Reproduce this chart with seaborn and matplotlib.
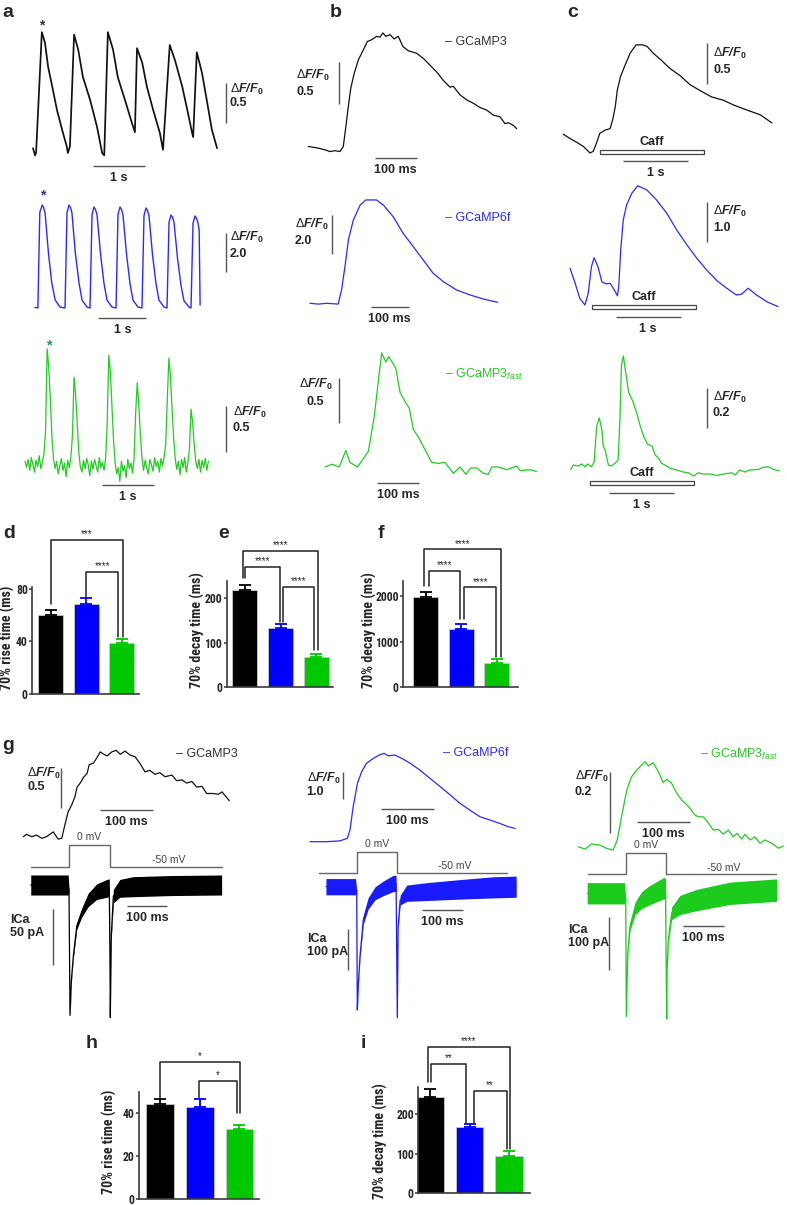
import numpy as np
import seaborn as sns
import matplotlib.pyplot as plt
from matplotlib import font_manager as fm
from matplotlib.patches import Rectangle

# ---------------- data ----------------
# a: paced transients (time in s, dF/F0)
a_black_t = [0.00, 0.04, 0.06, 0.17, 0.23, 0.29, 0.37, 0.46, 0.56, 0.65, 0.67, 0.71, 0.79, 0.87,
             0.96, 1.10, 1.23, 1.33, 1.37, 1.44, 1.54, 1.63, 1.77, 1.90, 1.96, 2.00, 2.10, 2.19,
             2.31, 2.44, 2.50, 2.63, 2.73, 2.87, 2.98, 3.06, 3.08, 3.15, 3.25, 3.35, 3.44, 3.54]
a_black_v = [0.06, -0.03, 0.01, 1.51, 1.38, 1.08, 0.83, 0.54, 0.29, 0.08, 0.00, 0.08, 1.48, 1.29,
             0.95, 0.66, 0.33, 0.00, -0.03, 1.51, 1.29, 0.95, 0.66, 0.38, 0.26, 1.31, 1.13, 0.83,
             0.54, 0.25, 0.04, 1.35, 1.16, 0.83, 0.50, 0.25, 0.20, 1.26, 1.00, 0.63, 0.29, 0.06]

a_blue_t = [0.00, 0.06, 0.10, 0.15, 0.18, 0.21, 0.28, 0.35, 0.42, 0.52,
            0.625, 0.667, 0.708, 0.74, 0.77, 0.84, 0.917, 0.98, 1.083,
            1.146, 1.188, 1.229, 1.26, 1.292, 1.365, 1.438, 1.50, 1.604,
            1.688, 1.729, 1.771, 1.802, 1.833, 1.906, 1.979, 2.042, 2.146,
            2.229, 2.271, 2.313, 2.344, 2.375, 2.448, 2.521, 2.583, 2.688,
            2.75, 2.792, 2.833, 2.865, 2.896, 2.969, 3.042, 3.104, 3.208,
            3.25, 3.292, 3.333, 3.365, 3.396, 3.42, 3.44]
a_blue_v = [0.03, 0.0, 4.9, 5.28, 5.15, 4.87, 2.82, 1.28, 0.41, 0.05,
            0.0, 4.9, 5.28, 5.15, 4.87, 2.82, 1.28, 0.41, 0.05,
            0.0, 4.8, 5.18, 5.05, 4.78, 2.77, 1.25, 0.40, 0.05,
            0.0, 4.8, 5.18, 5.05, 4.78, 2.77, 1.25, 0.40, 0.05,
            0.0, 4.75, 5.13, 5.0, 4.73, 2.74, 1.24, 0.40, 0.05,
            0.0, 4.4, 4.77, 4.65, 4.4, 2.55, 1.15, 0.37, 0.05,
            0.0, 4.35, 4.72, 4.6, 4.35, 4.0, 0.15]

a_green_dt = 0.03
a_green_v = [0.02, -0.05, 0.04, -0.08, 0.06, -0.02, -0.10, 0.03, -0.04, 0.08, -0.06, 0.01, 0.10, 0.35,
             1.25, 1.05, 0.72, 0.30, 0.05, -0.06,
             0.02, -0.12, -0.03, 0.05, -0.08, 0.00, -0.15, 0.03, -0.05, 0.06,
             0.30, 0.94, 0.75, 0.45, 0.12, -0.04,
             -0.10, 0.03, -0.06, 0.05, -0.02, -0.14, 0.02, -0.07, 0.04, -0.03, -0.10, 0.06, -0.05, 0.01, -0.08, 0.05,
             0.45, 1.18, 1.00, 0.62, 0.25, 0.00,
             -0.12, -0.05, -0.20, 0.02, -0.09, -0.03, -0.16, 0.04, -0.06, 0.00, -0.11, 0.05,
             0.55, 0.88, 0.62, 0.30, 0.05,
             -0.08, 0.03, -0.05, -0.12, 0.04, -0.02, -0.09, 0.06, -0.04, 0.02, -0.10, 0.05, -0.03, 0.07, 0.20,
             0.70, 1.15, 0.95, 0.60, 0.28, 0.05,
             -0.07, 0.02, -0.13, 0.04, -0.05, 0.06, -0.10, 0.00, 0.15,
             0.59, 0.45, 0.20, 0.02,
             -0.06, 0.04, -0.10, 0.03, -0.05, 0.05, -0.08, 0.02]

# b: single transients (time in ms)
b_black_t = [0, 24, 40, 52, 64, 76, 84, 90, 96, 102, 110, 120, 132, 142, 152, 164, 172, 179, 186, 196,
             206, 216, 227, 240, 260, 276, 292, 308, 324, 340, 348, 364, 380, 396, 412, 428, 444, 460,
             472, 480, 492, 500]
b_black_v = [0.03, 0.01, -0.01, -0.03, -0.02, -0.03, 0.03, 0.26, 0.50, 0.72, 0.89, 1.05, 1.17, 1.27,
             1.29, 1.33, 1.32, 1.37, 1.33, 1.35, 1.30, 1.33, 1.21, 1.16, 1.13, 1.07, 0.99, 0.91, 0.81,
             0.73, 0.74, 0.64, 0.58, 0.54, 0.49, 0.46, 0.40, 0.38, 0.30, 0.31, 0.28, 0.24]
b_blue_t = [0, 22, 44, 74, 83, 92, 101, 114, 132, 147, 175, 193, 219, 245, 272, 298, 324, 351, 386,
            421, 456, 494]
b_blue_v = [0.01, -0.03, 0.01, -0.03, 0.69, 1.89, 3.26, 4.28, 5.05, 5.31, 5.31, 5.05, 4.45, 3.60,
            2.91, 2.23, 1.55, 1.12, 0.69, 0.44, 0.23, 0.06]
b_green_t = [0, 16, 34, 50, 60, 78, 104, 118, 136, 146, 153, 170, 180, 194, 202, 212, 224, 240, 256,
             272, 288, 308, 324, 338, 350, 364, 380, 392, 400, 416, 436, 460, 468, 492, 508]
b_green_v = [0.00, 0.03, 0.00, 0.18, 0.05, 0.00, 0.17, 0.55, 1.25, 1.15, 1.21, 1.08, 0.82, 0.70, 0.65,
             0.41, 0.33, 0.19, 0.05, 0.04, 0.05, -0.07, 0.00, -0.08, -0.01, -0.01, -0.07, -0.08, 0.00,
             0.00, -0.03, 0.01, -0.04, -0.03, -0.05]

# c: caffeine responses (time in s)
c_black_t = [0.00, 0.10, 0.21, 0.31, 0.41, 0.46, 0.51, 0.56, 0.64, 0.72, 0.76, 0.80, 0.83, 0.88, 0.95,
             1.03, 1.12, 1.22, 1.29, 1.38, 1.51, 1.64, 1.80, 1.95, 2.10, 2.28, 2.46, 2.62, 2.82, 3.03, 3.21]
c_black_v = [0.23, 0.18, 0.13, 0.08, 0.00, 0.02, 0.12, 0.24, 0.28, 0.30, 0.41, 0.57, 0.77, 0.94, 1.08,
             1.23, 1.33, 1.33, 1.31, 1.23, 1.14, 1.04, 0.95, 0.84, 0.77, 0.69, 0.65, 0.59, 0.53, 0.47, 0.37]
c_blue_t = [0.00, 0.08, 0.15, 0.23, 0.28, 0.33, 0.37, 0.43, 0.49, 0.55, 0.62, 0.68, 0.73, 0.75, 0.78,
            0.82, 0.87, 0.95, 1.04, 1.18, 1.33, 1.49, 1.64, 1.80, 1.95, 2.10, 2.26, 2.41, 2.56, 2.64,
            2.74, 2.87, 3.03, 3.20]
c_blue_v = [0.92, 0.54, 0.17, 0.00, 0.29, 0.96, 1.18, 0.96, 0.58, 0.53, 0.54, 0.38, 0.23, 0.46, 1.38,
            2.13, 2.50, 2.79, 2.98, 2.88, 2.63, 2.29, 1.88, 1.50, 1.17, 0.88, 0.61, 0.42, 0.25, 0.27,
            0.42, 0.25, 0.08, -0.04]
c_green_t = [0.00, 0.04, 0.12, 0.17, 0.22, 0.26, 0.32, 0.36, 0.40, 0.44, 0.48, 0.50, 0.53, 0.58, 0.63,
             0.68, 0.73, 0.76, 0.78, 0.81, 0.85, 0.89, 0.96, 1.02, 1.07, 1.12, 1.18, 1.25, 1.30, 1.35,
             1.40, 1.45, 1.53, 1.63, 1.73, 1.81, 1.89, 1.96, 2.04, 2.14, 2.25, 2.35, 2.48, 2.53, 2.60,
             2.68, 2.76, 2.89, 2.96, 3.04, 3.12, 3.21]
c_green_v = [-0.017, 0.005, 0.0, 0.01, -0.004, 0.01, -0.004, 0.02, 0.20, 0.24, 0.18, 0.10, 0.08, 0.005,
             0.0, 0.013, 0.03, 0.26, 0.50, 0.55, 0.46, 0.37, 0.32, 0.26, 0.20, 0.15, 0.11, 0.10, 0.055,
             0.04, 0.013, 0.005, -0.012, -0.02, -0.03, -0.034, -0.05, -0.034, -0.04, -0.04, -0.047,
             -0.04, -0.034, -0.045, -0.02, -0.03, -0.02, -0.017, -0.007, -0.004, -0.017, -0.024]
caff_start = [0.565, 0.34, 0.29]   # s, per trace
caff_dur = 1.6

# g: patch clamp, fluorescence (ms, dF/F0)
g_black_t = [0, 6, 16, 25, 35, 44, 57, 66, 73, 79, 85, 92, 98, 102, 109, 114, 121, 125, 133, 139, 146,
             153, 159, 168, 176, 184, 193, 203, 212, 221, 231, 240, 250, 259, 269, 282, 291, 301, 310,
             320, 329, 339, 348, 361, 370, 377, 391]
g_black_v = [0.0, 0.03, 0.0, 0.02, -0.02, 0.0, 0.06, -0.03, -0.02, 0.15, 0.31, 0.40, 0.50, 0.62, 0.68,
             0.74, 0.79, 0.90, 0.92, 0.98, 1.06, 1.03, 1.01, 1.06, 1.08, 1.03, 1.07, 1.02, 1.00, 0.92,
             0.81, 0.83, 0.78, 0.80, 0.75, 0.77, 0.70, 0.71, 0.67, 0.69, 0.62, 0.63, 0.54, 0.54, 0.53,
             0.56, 0.45]
g_blue_t = [0, 31, 56, 70, 75, 81, 89, 97, 106, 119, 130, 139, 147, 159, 172, 188, 206, 225, 244, 263,
            281, 300, 319, 338, 356, 372, 385]
g_blue_v = [0.0, 0.0, 0.03, 0.12, 0.42, 1.26, 2.11, 2.53, 2.83, 3.01, 3.13, 3.19, 3.10, 3.13, 3.01,
            2.83, 2.59, 2.29, 1.99, 1.69, 1.39, 1.14, 0.90, 0.78, 0.66, 0.54, 0.48]
g_green_t = [0, 13, 25, 41, 53, 66, 74, 82, 92, 101, 111, 120, 127, 133, 142, 152, 161, 168, 177, 187,
             196, 203, 212, 221, 228, 237, 247, 256, 266, 275, 285, 294, 301, 310, 316, 326, 335, 345,
             354, 367, 380, 389]
g_green_v = [0.001, -0.007, 0.010, 0.006, -0.004, -0.010, 0.023, 0.098, 0.185, 0.228, 0.250, 0.266,
             0.277, 0.263, 0.274, 0.244, 0.209, 0.220, 0.207, 0.174, 0.153, 0.142, 0.126, 0.104, 0.098,
             0.098, 0.077, 0.055, 0.057, 0.042, 0.055, 0.033, 0.044, 0.026, 0.041, 0.023, 0.033, 0.012,
             0.023, 0.012, -0.004, 0.003]

# g: voltage protocol and ICa (ms, mV, pA; sd = noise half-width)
vstep_t = [-94, 0, 0, 100, 100, 376]
vstep_mv = [-50, -50, 0, 0, -50, -50]
ica_l_t = [-94, -2, 0, 2.5, 6, 10.6, 19, 31, 47, 68, 93, 99, 100.5, 101.5, 104, 109, 125, 158, 250, 375]
ica_l_pa = [0, 0, -5, -117, -85, -64, -37, -25, -13.5, -6, -3, -2.5, -60, -119, -45, -10, -3, -1.5, -0.5, 0]
ica_l_sd = [9, 9, 1, 1, 1, 2, 3, 4, 6, 7, 8, 8, 1, 1, 2, 6, 8, 9, 9, 9]
ica_m_t = [-75, -3, 0, 1.5, 4, 8, 16, 28, 45, 65, 89, 96, 97.5, 99, 101, 106, 122, 171, 252, 333, 389]
ica_m_pa = [0, 0, -10, -303, -240, -172, -82, -41, -16, -4, 8, 8, -150, -322, -100, -33, -16, -12, -6.5, -1.6, 0]
ica_m_sd = [20, 20, 2, 2, 3, 5, 10, 14, 16, 18, 20, 20, 2, 2, 4, 12, 20, 22, 24, 26, 26]
ica_r_t = [-94, -3, 0, 1.5, 5, 10.5, 23, 39, 59, 92, 97, 98.5, 100, 101, 104, 112, 132, 173, 254, 368]
ica_r_pa = [0, 0, -10, -231, -113, -62, -28, -12.6, -3.2, 9.4, 9, -120, -236, -140, -88, -37.5, -22, -12.6, 0, 6]
ica_r_sd = [20, 20, 2, 2, 4, 8, 12, 16, 18, 20, 20, 2, 2, 3, 5, 12, 18, 20, 21, 21]

# bar charts (mean, SEM)
groups = ['GCaMP3', 'GCaMP6f', 'GCaMP3fast']
bar_colors = ['#000000', '#0000ff', '#00c800']
d_rise = [60, 68, 38.5]
d_err = [4, 4.7, 3]
e_decay = [220, 133, 69]
e_err = [11, 9, 6]
f_decay = [1970, 1273, 537]
f_err = [110, 110, 75]
h_rise = [44.2, 42.8, 32.6]
h_err = [2.6, 4, 1.8]
i_decay = [245, 167, 95]
i_err = [18, 9, 11]

# significance brackets: x1, x2, top, left end, right end, label
d_sig = [(0.0, 2.03, 117, 68.5, 43, '***'), (0.99, 1.91, 92.5, 73, 43, '****')]
e_sig = [(-0.05, 2.03, 307, 245, 84, '****'), (0.0, 0.99, 271, 245, 147, '****'),
         (1.06, 1.94, 226, 147, 84, '****')]
f_sig = [(-0.04, 2.12, 3013, 2218, 668, '****'), (0.1, 0.96, 2540, 2218, 1485, '****'),
         (1.08, 1.98, 2183, 1485, 668, '****')]
h_sig = [(0.0, 2.01, 63.7, 47, 40, '*'), (0.98, 1.93, 55.2, 47, 40, '*')]
i_sig = [(-0.06, 2.03, 370, 283, 111, '****'), (0.03, 0.91, 327, 283, 177, '**'),
         (1.10, 1.94, 260, 177, 111, '**')]

# ---------------- style ----------------
sns.set_style('white')
plt.rcParams['font.family'] = ['Liberation Sans', 'DejaVu Sans']
plt.rcParams['mathtext.fontset'] = 'custom'
plt.rcParams['mathtext.rm'] = 'Liberation Sans'
plt.rcParams['mathtext.it'] = 'Liberation Sans:italic'
plt.rcParams['mathtext.bf'] = 'Liberation Sans:bold'
if 'mathtext.bfit' in plt.rcParams:
    plt.rcParams['mathtext.bfit'] = 'Liberation Sans:bold:italic'
    DF = r'$\Delta\mathbfit{F/F}_{\mathbf{0}}$'
else:
    DF = r'$\Delta\mathbf{F/F}_{\mathbf{0}}$'
FAST = r'$_{\mathit{fast}}$'

# condensed face for the bar charts, if one is installed
installed = {f.name for f in fm.fontManager.ttflist}
NARROW, TICK_FS, YLAB_FS = ['Liberation Sans'], 7.5, 8.5
for cand in ('Liberation Sans Narrow', 'Roboto Condensed', 'Open Sans Condensed'):
    if cand in installed:
        NARROW, TICK_FS, YLAB_FS = [cand, 'Liberation Sans'], 8.5, 10
        break

BLACK_TR = '#111111'
BLUE_TR = '#2a2aff'
GREEN_TR = '#22cc22'
SB = '#555555'

W, H = 787, 1205
PT = 0.72  # px -> pt at 100 dpi

fig = plt.figure(figsize=(W / 100, H / 100), dpi=100)


def trace_ax(x0, y0, sx, sy):
    # full-figure overlay axes; data (0, 0) sits at pixel (x0, y0), sx/sy = px per unit
    ax = fig.add_axes([0, 0, 1, 1])
    ax.set_xlim(-x0 / sx, (W - x0) / sx)
    ax.set_ylim((y0 - H) / sy, y0 / sy)
    ax.axis('off')
    return ax


def trace(ax, t, v, color, lw=0.9):
    sns.lineplot(x=t, y=v, ax=ax, color=color, lw=lw, estimator=None, sort=False, legend=False)


def note(ax, xy, s, dx=0, dy=0, **kw):
    kw.setdefault('fontsize', 9)
    kw.setdefault('fontweight', 'bold')
    ax.annotate(s, xy, xytext=(dx * PT, dy * PT), textcoords='offset points', **kw)


def hbar(ax, x, y, length, label):
    ax.plot([x, x + length], [y, y], color=SB, lw=1.0, solid_capstyle='butt')
    note(ax, (x + length / 2, y), label, 0, -12, ha='center', va='center')


def vbar(ax, x, y, length, lines, dx, dys, ha='left'):
    ax.plot([x, x], [y, y + length], color=SB, lw=1.0, solid_capstyle='butt')
    for s, dy in zip(lines, dys):
        note(ax, (x, y + length), s, dx, dy, ha=ha, va='center')


def legend_text(ax, xy, s, color):
    note(ax, xy, '– ' + s, fontweight='normal', color=color, ha='left', va='center')


def caff(ax, t0, v0, h):
    ax.add_patch(Rectangle((t0, v0), caff_dur, h, facecolor='white', edgecolor='#444444', lw=0.9))
    note(ax, (t0 + caff_dur / 2, v0 + h), 'Caff', 0, 7.5, ha='center', va='center')


def ica(ax, t, pa, sd, color):
    t, pa, sd = np.array(t), np.array(pa), np.array(sd)
    ax.fill_between(t, pa - sd, pa + sd, color=color, lw=0)
    trace(ax, t, pa, color, 0.9)


def vstep(ax):
    trace(ax, vstep_t, vstep_mv, '#666666', 1.0)
    note(ax, (50, 0), '0 mV', 0, 8, fontsize=7.5, fontweight='normal', color='#444444', ha='center', va='center')
    note(ax, (245, -50), '-50 mV', 0, 6.5, fontsize=7.5, fontweight='normal', color='#444444', ha='center', va='center')


# ---------------- a ----------------
ax = trace_ax(33, 153, 52, 80)
trace(ax, a_black_t, a_black_v, BLACK_TR, 1.25)
note(ax, (a_black_t[3], a_black_v[3]), '*', 0, 2.4, ha='center', va='baseline', fontsize=10, color='#333333')
hbar(ax, 1.15, -0.16, 1, '1 s')
vbar(ax, 3.71, 0.375, 0.5, [DF, '0.5'], 4, [-6, -20])

ax = trace_ax(35, 308, 48, 19.5)
trace(ax, a_blue_t, a_blue_v, BLUE_TR, 1.0)
note(ax, (a_blue_t[3], a_blue_v[3]), '*', 1, 5.4, ha='center', va='baseline', fontsize=10, color='#333399')
hbar(ax, 1.32, -0.51, 1, '1 s')
vbar(ax, 3.98, 1.85, 2.0, [DF, '2.0'], 4, [-5, -21])

ax = trace_ax(25, 463, 52.7, 91.3)
a_green_t = np.arange(len(a_green_v)) * a_green_dt
trace(ax, a_green_t, a_green_v, GREEN_TR)
note(ax, (a_green_t[14], a_green_v[14]), '*', 1.7, -1, ha='center', va='baseline', fontsize=10, color='#1a9a5a')
hbar(ax, 1.455, -0.24, 1, '1 s')
vbar(ax, 3.81, 0.124, 0.5, [DF, '0.5'], 7, [-6, -22])

# ---------------- b ----------------
ax = trace_ax(308.3, 149, 0.4167, 84.7)
trace(ax, b_black_t, b_black_v, BLACK_TR)
hbar(ax, 160, -0.106, 100, '100 ms')
vbar(ax, 73.7, 0.53, 0.5, [DF, '0.5'], -43, [-14, -30])
legend_text(ax, (329, 1.26), 'GCaMP3', '#333333')

ax = trace_ax(310, 303.5, 0.38, 19.5)
trace(ax, b_blue_t, b_blue_v, BLUE_TR)
hbar(ax, 160, -0.18, 100, '100 ms')
vbar(ax, 57, 2.54, 2.0, [DF, '2.0'], -36.7, [-9, -26.5])
legend_text(ax, (355, 4.38), 'GCaMP6f', BLUE_TR)

ax = trace_ax(325, 467, 0.4167, 91.3)
trace(ax, b_green_t, b_green_v, GREEN_TR)
hbar(ax, 125.5, -0.17, 100, '100 ms')
vbar(ax, 33.6, 0.48, 0.5, [DF, '0.5'], -23.5, [-7.3, -24], ha='center')
legend_text(ax, (288, 1.01), 'GCaMP3' + FAST, GREEN_TR)

# ---------------- c ----------------
ax = trace_ax(563.3, 153, 65, 81.3)
trace(ax, c_black_t, c_black_v, BLACK_TR)
caff(ax, caff_start[0], -0.012, 4 / 81.3)
hbar(ax, 0.92, -0.10, 1, '1 s')
vbar(ax, 2.21, 0.85, 0.5, [DF, '0.5'], 6.3, [-10.7, -26.7])

ax = trace_ax(570, 305, 65, 40)
trace(ax, c_blue_t, c_blue_v, BLUE_TR)
caff(ax, caff_start[1], -0.1, 4 / 40)
hbar(ax, 0.70, -0.30, 1, '1 s')
vbar(ax, 2.11, 1.58, 1.0, [DF, '1.0'], 6.3, [-10, -26.3])

ax = trace_ax(570.7, 466, 65, 200)
trace(ax, c_green_t, c_green_v, GREEN_TR)
caff(ax, caff_start[2], -0.093, 4 / 200)
hbar(ax, 0.59, -0.137, 1, '1 s')
vbar(ax, 2.09, 0.19, 0.2, [DF, '0.2'], 6.3, [-9.7, -24.7])

# ---------------- g ----------------
ax = trace_ax(23.3, 836.7, 0.527, 80)
trace(ax, g_black_t, g_black_v, BLACK_TR)
hbar(ax, 146, 0.33, 100, '100 ms')
vbar(ax, 71, 0.355, 0.5, [DF, '0.5'], -33.7, [-4.7, -18.7])
legend_text(ax, (290, 1.03), 'GCaMP3', '#333333')
vstep(trace_ax(69, 845, 0.407, 0.434))
ax = trace_ax(69, 885, 0.407, 1.114)
ica(ax, ica_l_t, ica_l_pa, ica_l_sd, '#000000')
hbar(ax, 142, -18.6, 100, '100 ms')
vbar(ax, -38.6, -71.8, 50, ['ICa', '50 pA'], -43.3, [-10.7, -23.7])

ax = trace_ax(310, 841.7, 0.533, 27.7)
trace(ax, g_blue_t, g_blue_v, BLUE_TR)
hbar(ax, 133, 1.18, 100, '100 ms')
vbar(ax, 61, 1.53, 1.0, [DF, '1.0'], -36, [-6.6, -20.3])
legend_text(ax, (250, 3.19), 'GCaMP6f', BLUE_TR)
vstep(trace_ax(356.7, 852.3, 0.40, 0.407))
ax = trace_ax(356.7, 886.7, 0.41, 0.407)
ica(ax, ica_m_t, ica_m_pa, ica_m_sd, '#1a1aff')
hbar(ax, 160, -57, 100, '100 ms')
vbar(ax, -20.5, -205, 100, ['ICa', '100 pA'], -41.6, [-10, -22.4])

ax = trace_ax(578.3, 847, 0.527, 308)
trace(ax, g_green_t, g_green_v, GREEN_TR)
hbar(ax, 112, 0.082, 100, '100 ms')
vbar(ax, 60, 0.044, 0.2, [DF, '0.2'], -35, [-5, -20])
legend_text(ax, (231, 0.30), 'GCaMP3' + FAST, GREEN_TR)
vstep(trace_ax(625.7, 853.3, 0.40, 0.42))
ax = trace_ax(625.7, 893.3, 0.41, 0.533)
ica(ax, ica_r_t, ica_r_pa, ica_r_sd, '#1ccc1c')
hbar(ax, 140, -61, 100, '100 ms')
vbar(ax, -40, -144, 100, ['ICa', '100 pA'], -41.6, [-13.3, -26])


# ---------------- bar charts ----------------
def bar_panel(box, vals, errs, ylim, xlim, ticks, sig, ylabel, ylab_xy):
    l, t, r, b = box
    ax = fig.add_axes([l / W, 1 - b / H, (r - l) / W, (b - t) / H])
    sns.barplot(x=groups, y=vals, hue=groups, palette=bar_colors, legend=False, width=0.7,
                saturation=1, errorbar=None, edgecolor='#c8c8c8', linewidth=0.6, ax=ax)
    for k, (v, e, c) in enumerate(zip(vals, errs, bar_colors)):
        ax.errorbar(k, v, yerr=[[0], [e]], fmt='none', ecolor=c, elinewidth=1.3, capsize=4, capthick=1.3)
    ax.set_xlim(xlim)
    ax.set_ylim(ylim)
    ax.set_xticks([])
    ax.set_yticks(ticks)
    ax.set_yticklabels([str(x) for x in ticks], fontfamily=NARROW, fontweight='bold', fontsize=TICK_FS)
    ax.set_xlabel('')
    ax.set_ylabel('')
    sns.despine(ax=ax)
    for side in ('left', 'bottom'):
        ax.spines[side].set_linewidth(1.2)
        ax.spines[side].set_color('#3a3a3a')
    ax.tick_params(axis='y', length=2.2, width=1.1, color='#3a3a3a', pad=1.0, left=True)
    for x1, x2, top, y1, y2, lab in sig:
        ax.plot([x1, x1, x2, x2], [y1, top, top, y2], color='#222222', lw=1.1, clip_on=False)
        ax.annotate(lab, ((x1 + x2) / 2, top), xytext=(0, 0.5), textcoords='offset points',
                    ha='center', va='bottom', fontsize=7, annotation_clip=False)
    fig.text(ylab_xy[0] / W, 1 - ylab_xy[1] / H, ylabel, rotation=90, ha='center', va='center',
             fontfamily=NARROW, fontweight='bold', fontsize=YLAB_FS)


bar_panel((32.3, 587.3, 139.3, 694), d_rise, d_err, (0, 81), (-0.52, 2.5), [0, 40, 80], d_sig,
          '70% rise time (ms)', (7, 638))
bar_panel((226.7, 580.7, 333.3, 687.3), e_decay, e_err, (0, 240), (-0.51, 2.47), [0, 100, 200], e_sig,
          '70% decay time (ms)', (197, 630))
bar_panel((403.3, 580.7, 518.3, 687.3), f_decay, f_err, (0, 2330), (-0.63, 2.6), [0, 1000, 2000], f_sig,
          '70% decay time (ms)', (369, 630))
bar_panel((139.3, 1091.7, 259.3, 1199.3), h_rise, h_err, (0, 50), (-0.52, 2.5), [0, 20, 40], h_sig,
          '70% rise time (ms)', (109, 1142))
bar_panel((418.3, 1086.7, 530, 1193.3), i_decay, i_err, (0, 270), (-0.30, 2.53), [0, 100, 200], i_sig,
          '70% decay time (ms)', (380, 1141))

# panel letters
for lab, x, y in [('a', 2, 17), ('b', 330, 17), ('c', 567, 17), ('d', 3, 538), ('e', 218, 538),
                  ('f', 378, 538), ('g', 2, 750), ('h', 86, 1048), ('i', 361, 1048)]:
    fig.text(x / W, 1 - y / H, lab, fontsize=14, fontweight='bold', va='baseline', ha='left')

fig.savefig('out.png', dpi=100, facecolor='white')
